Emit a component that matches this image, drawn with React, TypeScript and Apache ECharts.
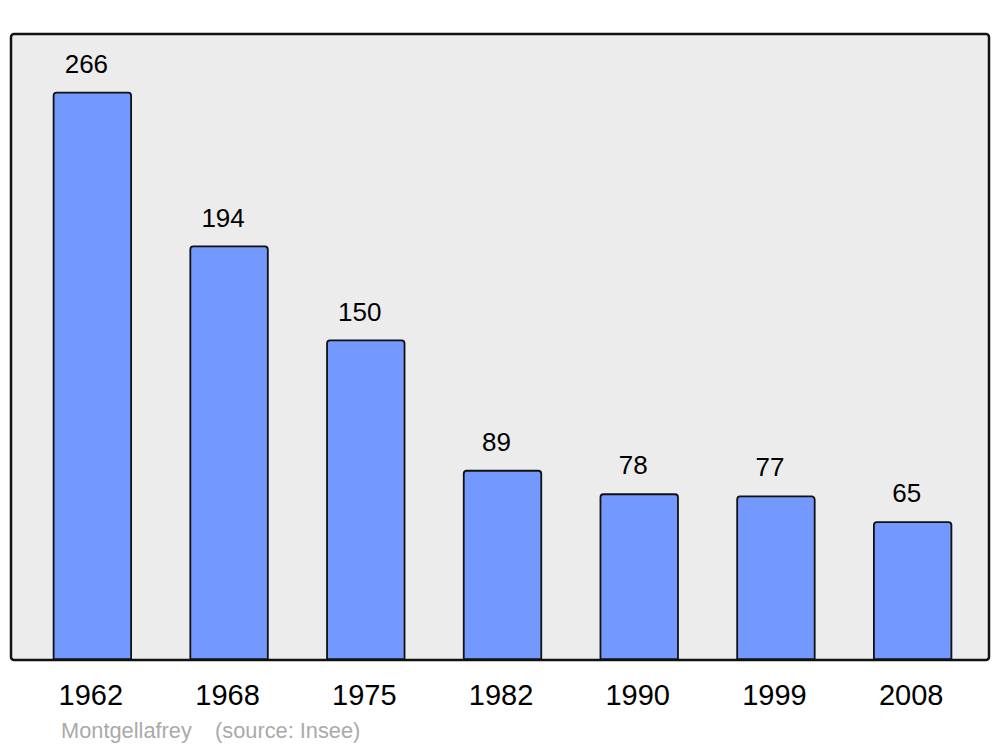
import React, { useEffect, useRef } from "react";
import * as echarts from "echarts";

const years = ["1962", "1968", "1975", "1982", "1990", "1999", "2008"];
const population = [266, 194, 150, 89, 78, 77, 65];
const footerName = "Montgellafrey";
const footerSource = "(source: Insee)";

export default function App() {
  const ref = useRef<HTMLDivElement>(null);
  useEffect(() => {
    if (!ref.current) return;
    const chart = echarts.init(ref.current, undefined, { renderer: "svg" });
    const font = "'Liberation Sans', Arial, sans-serif";
    chart.setOption({
      animation: false,
      backgroundColor: "#ffffff",
      graphic: [
        {
          type: "rect",
          z: -10,
          shape: { x: 11, y: 34, width: 978, height: 626, r: 3 },
          style: { fill: "#ececec", stroke: "#111111", lineWidth: 2.5 },
        },
        {
          type: "text",
          left: 61,
          top: 719,
          style: { text: footerName, fill: "#aaaaaa", font: "21.8px " + font },
        },
        {
          type: "text",
          left: 215,
          top: 719,
          style: { text: footerSource, fill: "#aaaaaa", font: "21.8px " + font },
        },
      ],
      grid: { left: 24, right: 19, top: 34, bottom: 87 },
      xAxis: {
        type: "category",
        data: years,
        axisLine: { show: false },
        axisTick: { show: false },
        axisLabel: {
          color: "#000000",
          fontSize: 29,
          fontFamily: font,
          margin: 20,
          padding: [0, 3, 0, 0],
        },
      },
      yAxis: {
        type: "value",
        min: 0,
        max: 293,
        show: false,
        splitLine: { show: false },
      },
      series: [
        {
          type: "bar",
          data: population,
          barWidth: "58%",
          itemStyle: {
            color: "#7399ff",
            borderColor: "#111111",
            borderWidth: 1.8,
            borderRadius: [3, 3, 0, 0],
          },
          label: {
            show: true,
            position: "top",
            distance: 15,
            offset: [-6, 0],
            color: "#000000",
            fontSize: 26,
            fontFamily: font,
          },
        },
      ],
    });
    return () => chart.dispose();
  }, []);
  return <div ref={ref} style={{ width: 1000, height: 747, position: "absolute", left: 0, top: 0 }} />;
}
